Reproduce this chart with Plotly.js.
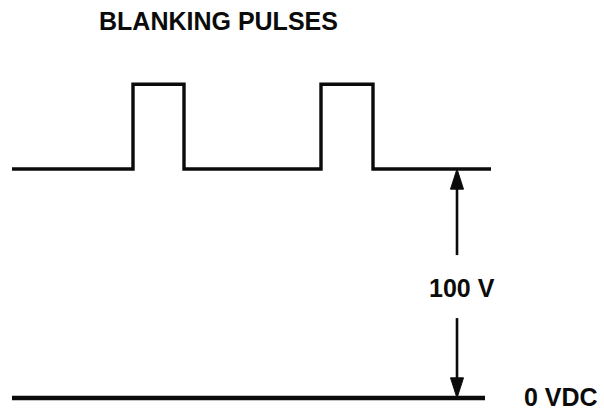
<!DOCTYPE html>
<html>
<head>
<meta charset="utf-8">
<script src="https://cdn.plot.ly/plotly-3.0.1.min.js"></script>
<style>html,body{margin:0;padding:0;background:#fff;}#chart{width:604px;height:411px;}</style>
</head>
<body>
<div id="chart"></div>
<script>
// Waveform data (time in arbitrary units, level in volts)
const waveTime = [12, 133, 184, 321, 373, 491];
const waveVolts = [100, 137, 100, 137, 100, 100];
// 0 VDC reference line
const refTime = [12, 485];
const refVolts = [0, 0];
// Dimension arrow (100 V span)
const arrowTime = 457;
const arrowTopVolts = 100;
const arrowBottomVolts = 0;
const arrowGapVolts = [62.4, 34.9]; // ends of the shafts around the label
// Labels
const titleText = "BLANKING PULSES";
const spanLabel = "100 V";
const refLabel = "0 VDC";

const ink = "#0b0b0b";
const headLenV = 8.8, headHalfW = 6.5;

const traces = [
  {x: waveTime, y: waveVolts, mode: "lines", line: {shape: "hv", color: ink, width: 3.4}, hoverinfo: "skip"},
  {x: refTime, y: refVolts, mode: "lines", line: {color: ink, width: 4.4}, hoverinfo: "skip"},
  // upper shaft
  {x: [arrowTime, arrowTime], y: [arrowGapVolts[0], arrowTopVolts - headLenV + 1], mode: "lines", line: {color: ink, width: 2.6}, hoverinfo: "skip"},
  // lower shaft
  {x: [arrowTime, arrowTime], y: [arrowGapVolts[1], arrowBottomVolts + headLenV - 1], mode: "lines", line: {color: ink, width: 2.6}, hoverinfo: "skip"},
  // heads
  {x: [arrowTime - headHalfW, arrowTime, arrowTime + headHalfW, arrowTime - headHalfW],
   y: [arrowTopVolts - headLenV, arrowTopVolts, arrowTopVolts - headLenV, arrowTopVolts - headLenV],
   mode: "lines", fill: "toself", fillcolor: ink, line: {color: ink, width: 1}, hoverinfo: "skip"},
  {x: [arrowTime - headHalfW, arrowTime, arrowTime + headHalfW, arrowTime - headHalfW],
   y: [arrowBottomVolts + headLenV, arrowBottomVolts, arrowBottomVolts + headLenV, arrowBottomVolts + headLenV],
   mode: "lines", fill: "toself", fillcolor: ink, line: {color: ink, width: 1}, hoverinfo: "skip"}
];

const font = {family: "Liberation Sans, Arial, sans-serif", color: ink};
const layout = {
  width: 604, height: 411,
  margin: {l: 0, r: 0, t: 0, b: 0},
  paper_bgcolor: "#fff", plot_bgcolor: "#fff",
  showlegend: false,
  xaxis: {range: [0, 604], visible: false, fixedrange: true},
  yaxis: {range: [-5.68, 173.8], visible: false, fixedrange: true},
  annotations: [
    {x: 218, y: 164.6, xref: "x", yref: "y", text: "<b>" + titleText + "</b>", showarrow: false,
     font: Object.assign({size: 25}, font), xanchor: "center", yanchor: "middle"},
    {x: 462, y: 48.0, xref: "x", yref: "y", text: "<b>" + spanLabel + "</b>", showarrow: false,
     font: Object.assign({size: 25}, font), xanchor: "center", yanchor: "middle"},
    {x: 561, y: 0.3, xref: "x", yref: "y", text: "<b>" + refLabel + "</b>", showarrow: false,
     font: Object.assign({size: 25}, font), xanchor: "center", yanchor: "middle"}
  ]
};
Plotly.newPlot("chart", traces, layout, {displayModeBar: false, staticPlot: true});
</script>
</body>
</html>
